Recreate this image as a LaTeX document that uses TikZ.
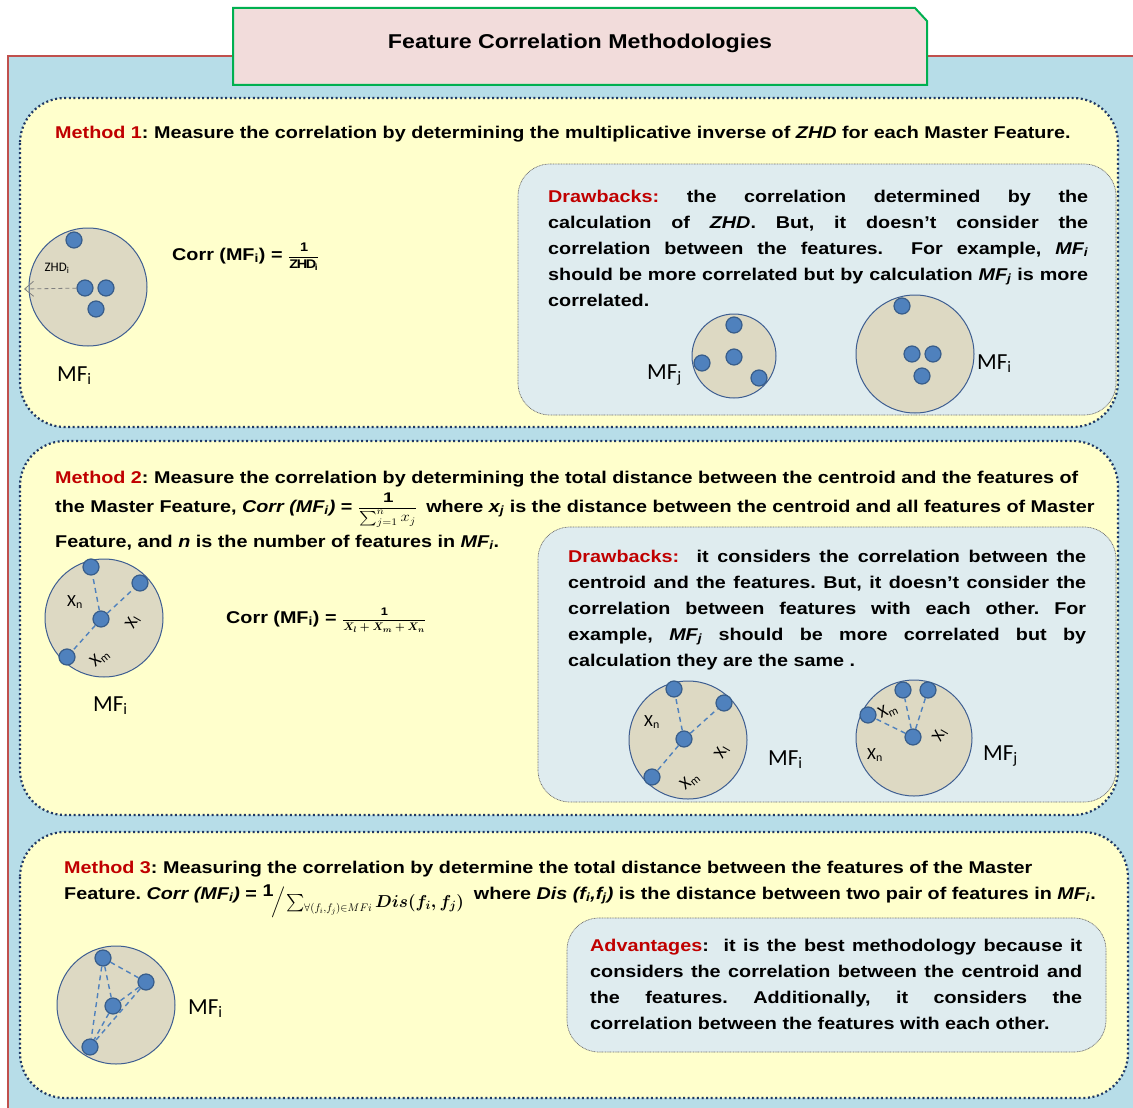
\documentclass[tikz,border=0pt]{standalone}
\usepackage{amsmath}
\usepackage{graphicx}
\usepackage{fontspec}
\setmainfont{Liberation Sans}[FakeStretch=1.16]
\newfontfamily\lblfont{Carlito}
\usetikzlibrary{arrows.meta}

\definecolor{bgblue}{HTML}{B7DDE8}
\definecolor{bgred}{HTML}{C0504D}
\definecolor{titlefill}{HTML}{F2DCDB}
\definecolor{titleedge}{HTML}{00B050}
\definecolor{panelfill}{HTML}{FFFFCC}
\definecolor{paneledge}{HTML}{1F3864}
\definecolor{boxfill}{HTML}{DFECEF}
\definecolor{boxedge}{HTML}{6F6F6F}
\definecolor{circfill}{HTML}{DDD9C3}
\definecolor{circedge}{HTML}{3E5E91}
\definecolor{dotfill}{HTML}{4F81BD}
\definecolor{dotedge}{HTML}{385D8A}
\definecolor{hilite}{HTML}{C00000}

% one justified line of a fixed-width block
\newcommand\jline[1]{\makebox[\linewidth][s]{#1}}
\newcommand\hl[1]{\textcolor{hilite}{#1}}
% math set a little wider to sit with the stretched text face
\newcommand\widemath[1]{\scalebox{1.16}[1]{#1}}

\begin{document}
\frenchspacing
\begin{tikzpicture}[x=1pt,y=-1pt,
  bodytext/.style={font=\fontsize{17.05}{26}\selectfont\bfseries, inner sep=0pt, anchor=base west},
  panel/.style={fill=panelfill, draw=paneledge, line width=2.2pt, dash pattern=on 2pt off 2.6pt, rounded corners=45pt},
  infobox/.style={fill=boxfill, draw=boxedge, line width=0.7pt, dash pattern=on 0.9pt off 0.7pt, rounded corners=32pt},
  mfcircle/.style={circle, draw=circedge, line width=1pt, fill=circfill, inner sep=0pt},
  fdot/.style={circle, draw=dotedge, line width=1.2pt, fill=dotfill, minimum size=16pt, inner sep=0pt},
  link/.style={draw=dotfill, line width=1.4pt, dash pattern=on 5pt off 4pt},
  mflabel/.style={font=\lblfont\fontsize{23}{23}\selectfont, inner sep=0pt, anchor=base west},
  xlabel/.style={font=\lblfont\fontsize{17}{17}\selectfont, inner sep=0pt},
  zhdarrow/.style={draw=gray, line width=0.8pt, dash pattern=on 4pt off 3pt, -{Straight Barb[length=9pt,width=15pt,line width=0.8pt]}}
]
\useasboundingbox (0,0) rectangle (1133,1108);
\fill[white] (0,0) rectangle (1133,1108);
\begin{scope}
\clip (0,0) rectangle (1133,1108);
% backdrop
\draw[fill=bgblue, draw=bgred, line width=2pt] (8,56) rectangle (1150,1125);

% title card with one cut corner
\draw[fill=titlefill, draw=titleedge, line width=2pt] (233,8) -- (915,8) -- (927,21) -- (927,85) -- (233,85) -- cycle;
\node[font=\fontsize{20}{24}\selectfont\bfseries] (title) at (580,43) {Feature Correlation Methodologies};

% the three method panels
\path[panel] (20,98) rectangle (1118,427);
\path[panel] (20,441) rectangle (1118,815);
\path[panel] (20,832) rectangle (1128,1098);

% inner remark boxes
\path[infobox] (518,164) rectangle (1116,415);
\path[infobox] (538,527) rectangle (1116,802);
\path[infobox] (567,918) rectangle (1106,1052);

% ---------------- Method 1 ----------------
\node[bodytext] (m1) at (55,138) {\hl{Method 1}: Measure the correlation by determining the multiplicative inverse of \textit{ZHD} for each Master Feature.};

\node[mfcircle, minimum size=118pt] (c1) at (88,287) {};
\node[fdot] (a1) at (74,240) {};
\node[fdot] (a2) at (85,288) {};
\node[fdot] (a3) at (106,288) {};
\node[fdot] (a4) at (96,309) {};
\coordinate (zhdtip) at (24,289);
\draw[zhdarrow] (a2) -- (zhdtip);
\node[font=\lblfont\fontsize{13}{13}\selectfont, inner sep=0pt] (zhd) at (57,268) {ZHD\textsubscript{i}};
\node[mflabel] (mf1) at (57,381) {MF\textsubscript{i}};

\node[bodytext] (f1) at (172,260) {Corr (MF\textsubscript{i}) = {\fontsize{12.5}{12.5}\selectfont$\displaystyle\frac{\mathbf{1}}{\mathbf{ZHD_{i}}}$}};

\node[bodytext] (db1) at (548,202) {\parbox[t]{540pt}{%
\jline{\hl{Drawbacks:} the correlation determined by the}\\
\jline{calculation of \textit{ZHD}. But, it doesn't consider the}\\
\jline{correlation between the features. \ For example, \textit{MF\textsubscript{i}}}\\
\jline{should be more correlated but by calculation \textit{MF\textsubscript{j}} is more}\\
correlated.}};

\node[mfcircle, minimum size=84pt] (c1j) at (734,356) {};
\node[fdot] (b1) at (734,325) {};
\node[fdot] (b2) at (734,357) {};
\node[fdot] (b3) at (702,363) {};
\node[fdot] (b4) at (759,378) {};
\node[mflabel] (mf1j) at (647,379) {MF\textsubscript{j}};

\node[mfcircle, minimum size=118pt] (c1i) at (915,354) {};
\node[fdot] (e1) at (902,306) {};
\node[fdot] (e2) at (912,354) {};
\node[fdot] (e3) at (933,354) {};
\node[fdot] (e4) at (922,376) {};
\node[mflabel] (mf1i) at (977,369) {MF\textsubscript{i}};

% ---------------- Method 2 ----------------
\node[bodytext] (m2a) at (55,483) {\hl{Method 2}: Measure the correlation by determining the total distance between the centroid and the features of};
\node[bodytext] (m2b) at (55,512) {the Master Feature, \textit{Corr (MF\textsubscript{i})} = {\fontsize{14}{14}\selectfont\widemath{$\displaystyle\frac{\mathbf{1}}{\textstyle\sum_{j=1}^{n}x_{j}}$}}\hspace{9pt}where \textit{x\textsubscript{j}} is the distance between the centroid and all features of Master};
\node[bodytext] (m2c) at (55,547) {Feature, and \textit{n} is the number of features in \textit{MF\textsubscript{i}}.};

\node[mfcircle, minimum size=118pt] (c2) at (104,618) {};
\node[fdot] (g1) at (91,567) {};
\node[fdot] (g2) at (140,583) {};
\node[fdot] (g3) at (101,619) {};
\node[fdot] (g4) at (67,657) {};
\draw[link] (g3) -- (g1);
\draw[link] (g3) -- (g2);
\draw[link] (g3) -- (g4);
\node[xlabel] (x2n) at (75,602) {X\textsubscript{n}};
\node[xlabel, rotate=60] (x2l) at (133,622) {X\textsubscript{l}};
\node[xlabel, rotate=40] (x2m) at (100,658) {X\textsubscript{m}};
\node[mflabel] (mf2) at (93,711) {MF\textsubscript{i}};

\node[bodytext] (f2) at (226,623) {Corr (MF\textsubscript{i}) = {\fontsize{11}{11}\selectfont$\displaystyle\frac{\mathbf{1}}{\boldsymbol{X_{l}+X_{m}+X_{n}}}$}};

\node[bodytext] (db2) at (568,562) {\parbox[t]{518pt}{%
\jline{\hl{Drawbacks:} \ it considers the correlation between the}\\
\jline{centroid and the features. But, it doesn't consider the}\\
\jline{correlation between features with each other. For}\\
\jline{example, \textit{MF\textsubscript{j}} should be more correlated but by}\\
calculation they are the same .}};

\node[mfcircle, minimum size=118pt] (c2i) at (688,740) {};
\node[fdot] (h1) at (674,689) {};
\node[fdot] (h2) at (724,703) {};
\node[fdot] (h3) at (684,739) {};
\node[fdot] (h4) at (652,777) {};
\draw[link] (h3) -- (h1);
\draw[link] (h3) -- (h2);
\draw[link] (h3) -- (h4);
\node[xlabel] (x3n) at (652,722) {X\textsubscript{n}};
\node[xlabel, rotate=60] (x3l) at (722,752) {X\textsubscript{l}};
\node[xlabel, rotate=40] (x3m) at (690,781) {X\textsubscript{m}};
\node[mflabel] (mf2i) at (768,765) {MF\textsubscript{i}};

\node[mfcircle, minimum size=116pt] (c2j) at (914,738) {};
\node[fdot] (k1) at (903,690) {};
\node[fdot] (k2) at (928,690) {};
\node[fdot] (k3) at (868,715) {};
\node[fdot] (k4) at (913,737) {};
\draw[link] (k4) -- (k1);
\draw[link] (k4) -- (k2);
\draw[link] (k4) -- (k3);
\node[xlabel, rotate=25] (x4m) at (888,711) {X\textsubscript{m}};
\node[xlabel, rotate=60] (x4l) at (940,735) {X\textsubscript{l}};
\node[xlabel] (x4n) at (875,755) {X\textsubscript{n}};
\node[mflabel] (mf2j) at (983,760) {MF\textsubscript{j}};

% ---------------- Method 3 ----------------
\node[bodytext] (m3a) at (64,873) {\hl{Method 3}: Measuring the correlation by determine the total distance between the features of the Master};
\node[bodytext] (m3b) at (64,899) {Feature. \textit{Corr (MF\textsubscript{i})} = \raisebox{3pt}{$\mathbf{1}$}\raisebox{-8pt}{$\Big/$}\raisebox{-8pt}{{\fontsize{16}{16}\selectfont$\sum_{\forall(f_{i},f_{j})\in MFi}$}\,$\boldsymbol{Dis(f_{i},f_{j})}$}\hspace{10pt}where \textit{Dis (f\textsubscript{i},f\textsubscript{j})} is the distance between two pair of features in \textit{MF\textsubscript{i}}.};

\node[mfcircle, minimum size=118pt] (c3) at (116,1005) {};
\node[fdot] (q1) at (103,958) {};
\node[fdot] (q2) at (146,982) {};
\node[fdot] (q3) at (113,1006) {};
\node[fdot] (q4) at (90,1047) {};
\draw[link] (q1) -- (q2);
\draw[link] (q1) -- (q3);
\draw[link] (q1) -- (q4);
\draw[link] (q2) -- (q3);
\draw[link] (q2) -- (q4);
\draw[link] (q3) -- (q4);
\node[mflabel] (mf3) at (188,1014) {MF\textsubscript{i}};

\node[bodytext] (adv) at (590,951) {\parbox[t]{492pt}{%
\jline{\hl{Advantages}: \ it is the best methodology because it}\\
\jline{considers the correlation between the centroid and}\\
\jline{the features. Additionally, it considers the}\\
correlation between the features with each other.}};
\end{scope}
\end{tikzpicture}
\end{document}
